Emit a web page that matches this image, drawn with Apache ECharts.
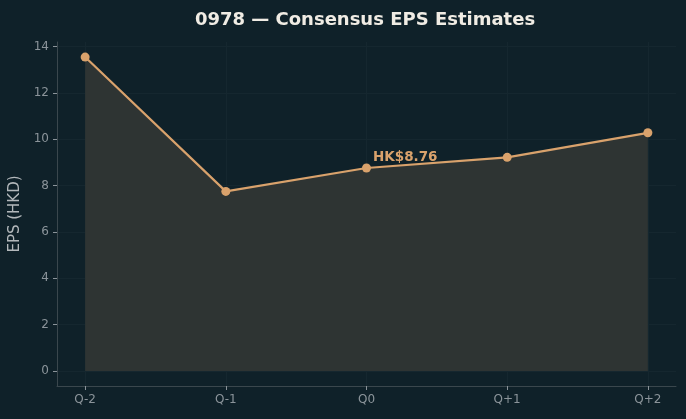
<!DOCTYPE html>
<html>
<head>
<meta charset="utf-8">
<script src="https://cdn.jsdelivr.net/npm/echarts@6/dist/echarts.min.js"></script>
<style>
html, body { margin: 0; padding: 0; background: #0f2129; }
#chart { width: 686px; height: 419px; }
</style>
</head>
<body>
<div id="chart"></div>
<script>
// data
const categories = ['Q-2', 'Q-1', 'Q0', 'Q+1', 'Q+2'];
const epsValues = [13.55, 7.75, 8.76, 9.22, 10.28];
const yTicks = [0, 2, 4, 6, 8, 10, 12, 14];
const currentIdx = 2; // Q0 gets the label

const xTicks = categories.map((c, i) => i);
const points = epsValues.map((v, i) => [i, v]);

const axisGrey = '#8b949a';
const gridCol = '#15272f';
const tan = '#d9a26c';

let chart = echarts.init(document.getElementById('chart'));
let option = {
    backgroundColor: '#0f2129',
    title: {
        text: '0978 \u2014 Consensus EPS Estimates',
        left: 360,
        textAlign: 'center',
        top: 6,
        textStyle: { color: '#f0ece4', fontSize: 18, fontWeight: 'bold', fontFamily: 'DejaVu Sans' }
    },
    grid: { left: 57, right: 10, top: 42, bottom: 33, outerBoundsMode: 'none', containLabel: false },
    xAxis: {
        type: 'value',
        min: -0.2,
        max: 4.2,
        axisLine: { show: true, onZero: false, lineStyle: { color: '#3a474d' } },
        axisTick: { show: true, customValues: xTicks, length: 4, lineStyle: { color: axisGrey } },
        axisLabel: {
            customValues: xTicks,
            color: axisGrey, fontSize: 12, margin: 8, fontFamily: 'DejaVu Sans',
            formatter: v => categories[Math.round(v)]
        },
        splitLine: { show: true, customValues: xTicks, lineStyle: { color: gridCol, width: 1 } }
    },
    yAxis: {
        type: 'value',
        min: -0.65,
        max: 14.2,
        name: 'EPS (HKD)',
        nameLocation: 'middle',
        nameGap: 28,
        nameTextStyle: { color: '#b3b8bb', fontSize: 15, fontFamily: 'DejaVu Sans' },
        axisLine: { show: true, onZero: false, lineStyle: { color: '#3a474d' } },
        axisTick: { show: true, customValues: yTicks, length: 4, lineStyle: { color: axisGrey } },
        axisLabel: { customValues: yTicks, color: axisGrey, fontSize: 12, margin: 8, fontFamily: 'DejaVu Sans' },
        splitLine: { show: true, customValues: yTicks, lineStyle: { color: gridCol, width: 1 } }
    },
    series: [{
        type: 'line',
        data: points,
        symbol: 'circle',
        symbolSize: 9,
        itemStyle: { color: tan },
        lineStyle: { color: tan, width: 2.2 },
        areaStyle: { color: '#2e3433', opacity: 1, origin: 0 },
        label: {
            show: true,
            position: [11, -13],
            color: tan,
            fontSize: 13.5,
            fontWeight: 'bold',
            fontFamily: 'DejaVu Sans',
            formatter: p => p.dataIndex === currentIdx ? 'HK$' + epsValues[currentIdx].toFixed(2) : ''
        },
        z: 3
    }]
};
chart.setOption(option);
</script>
</body>
</html>
